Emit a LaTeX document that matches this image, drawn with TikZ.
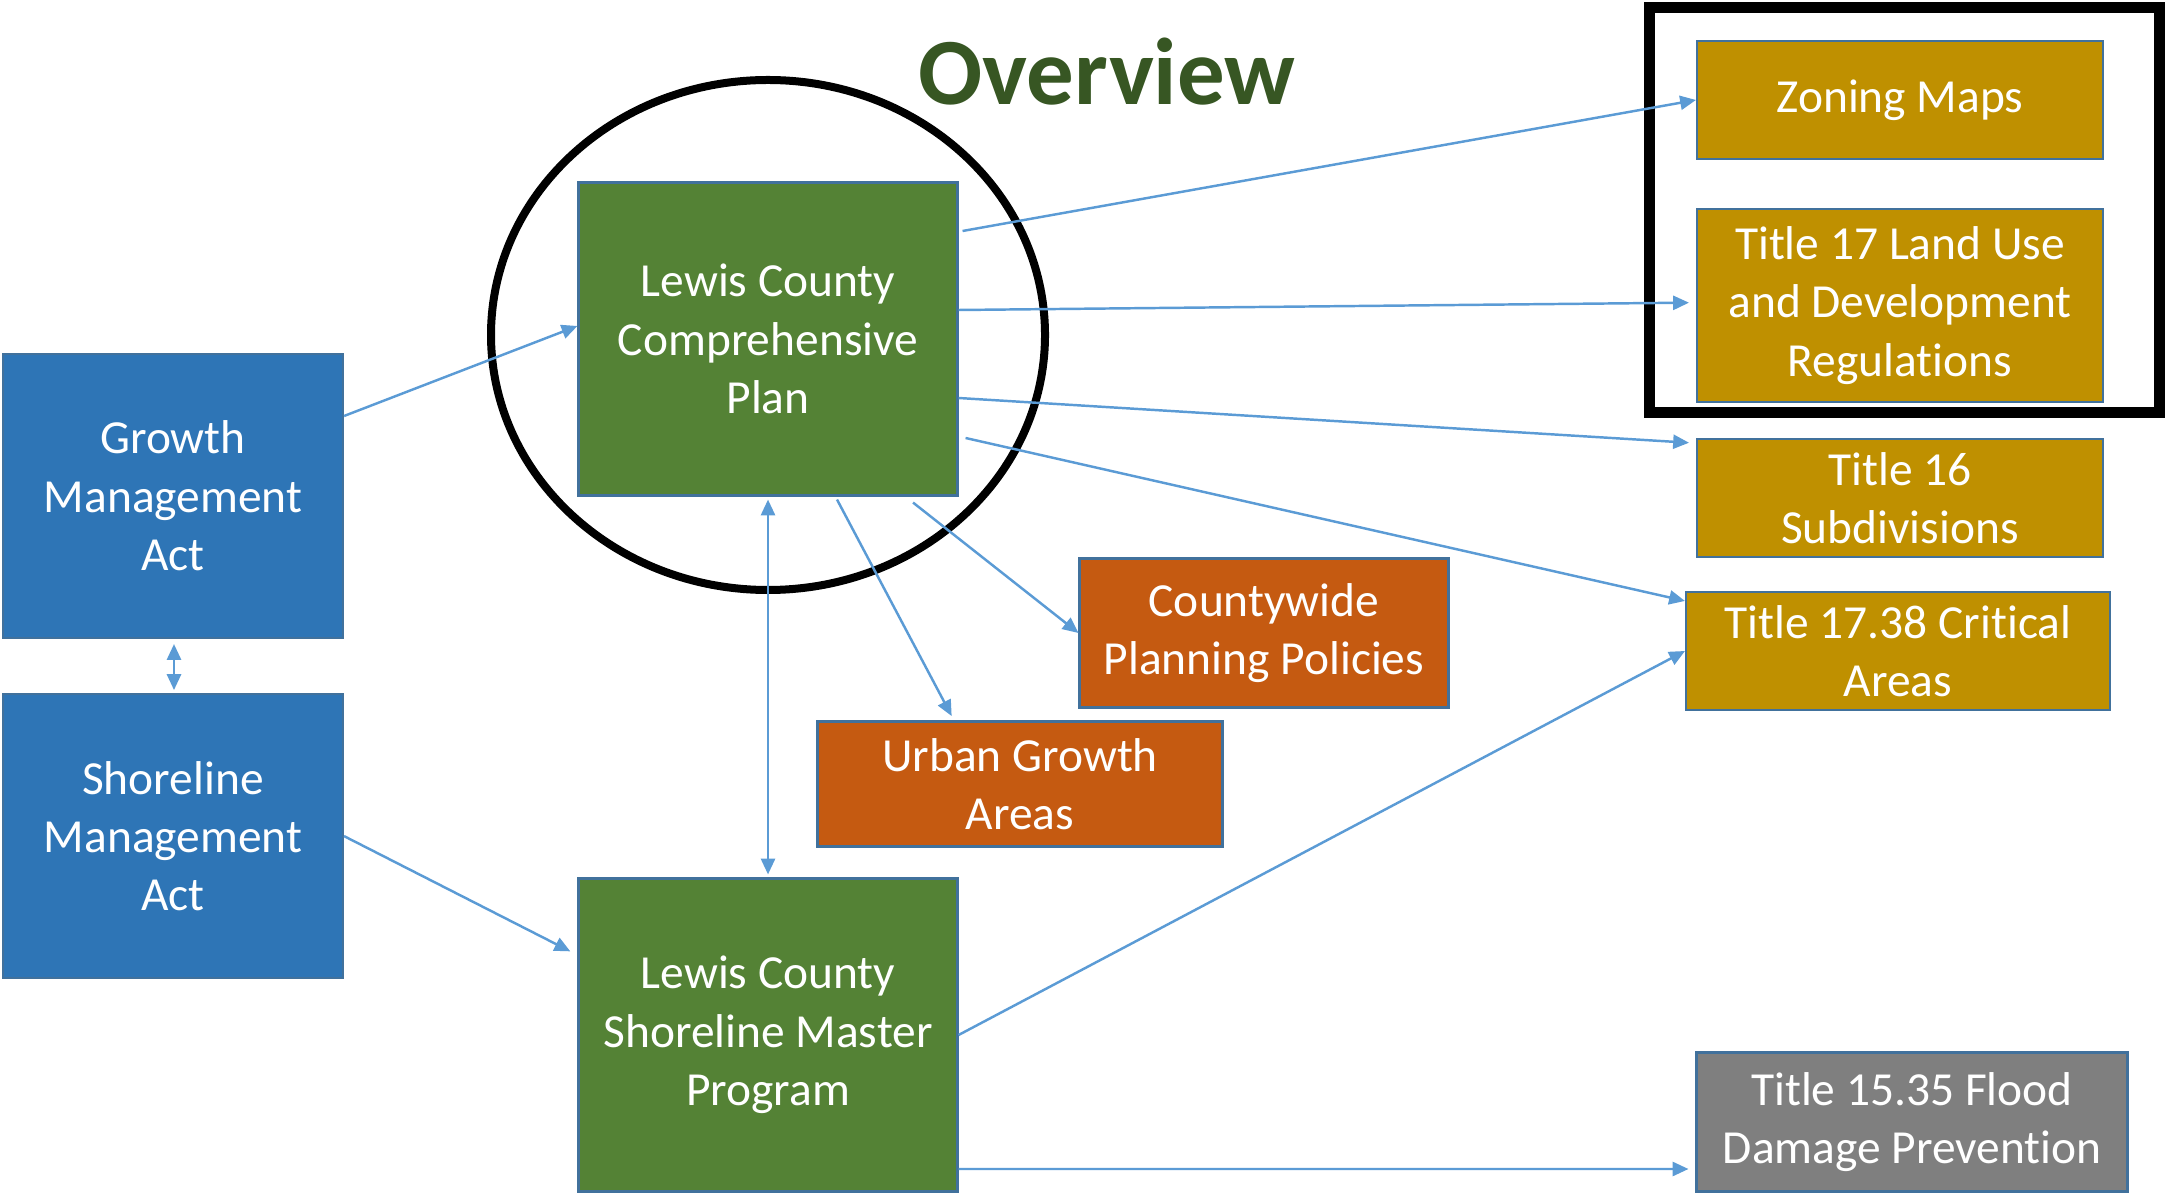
\documentclass[tikz,border=0pt]{standalone}
\usepackage{fontspec}
\setmainfont[Ligatures=NoCommon]{Carlito}
\usepackage{tikz}
\usetikzlibrary{positioning,arrows.meta,shapes}

\definecolor{actblue}{HTML}{2E75B6}
\definecolor{plangreen}{HTML}{548235}
\definecolor{codegold}{HTML}{BF9000}
\definecolor{policyorange}{HTML}{C55A11}
\definecolor{floodgray}{HTML}{7F7F7F}
\definecolor{boxline}{HTML}{41719C}
\definecolor{linkblue}{HTML}{5B9BD5}
\definecolor{titlegreen}{HTML}{375623}

\begin{document}
\begin{tikzpicture}[>={Triangle[length=4.5pt,width=4pt]},
    box/.style={rectangle, draw=boxline, line width=0.6pt, text=white, align=center,
      inner sep=0pt, font=\fontsize{13.5}{16.6}\selectfont},
    act/.style={box, fill=actblue, minimum width=3.40cm, minimum height=2.84cm},
    plan/.style={box, fill=plangreen, minimum width=3.79cm, minimum height=3.13cm},
    code/.style={box, fill=codegold, minimum width=4.06cm, minimum height=1.18cm},
    policy/.style={box, fill=policyorange},
    flood/.style={box, fill=floodgray, minimum width=4.31cm, minimum height=1.39cm},
    every edge/.style={draw=linkblue, line width=0.7pt}]

\useasboundingbox (0,0) rectangle (21.69,-11.96);

% Title
\node[font=\fontsize{27}{32}\selectfont\bfseries, text=titlegreen] (title) at (11.07,-0.72) {Overview};

% Acts
\node[act] (gma) at (1.73,-4.96) {Growth\\Management\\Act};
\node[act, below=0.54cm of gma] (sma) {Shoreline\\Management\\Act};

% Plans
\node[plan] (lccp) at (7.68,-3.39) {Lewis County\\Comprehensive\\Plan};
\node[plan] (lcsmp) at (7.68,-10.35) {Lewis County\\Shoreline Master\\Program};

% Codes
\node[code] (zoning) at (19.00,-1.00) {\raisebox{-0.04cm}{Zoning Maps}};
\node[code, minimum height=1.93cm, below=0.48cm of zoning] (t17) {Title 17 Land Use\\and Development\\Regulations};
\node[code, below=0.35cm of t17] (t16) {Title 16\\Subdivisions};
\node[code, minimum width=4.24cm] (t1738) at (18.98,-6.51) {Title 17.38 Critical\\Areas};
\node[flood] (t1535) at (19.12,-11.22) {Title 15.35 Flood\\Damage Prevention};

% Policies
\node[policy, minimum width=3.69cm, minimum height=1.49cm] (cpp) at (12.64,-6.33) {Countywide\\Planning Policies};
\node[policy, minimum width=4.05cm, minimum height=1.25cm] (uga) at (10.20,-7.84) {Urban Growth\\Areas};

% Highlights
\draw[line width=0.11cm] (16.49,-0.08) rectangle (21.59,-4.13);
\draw[line width=0.08cm] (7.68,-3.35) ellipse (2.77cm and 2.55cm);

% Links
\path[->] ([yshift=0.8cm]gma.east) edge ([yshift=0.13cm]lccp.west)
  ([xshift=0.04cm, yshift=1.08cm]lccp.east) edge (zoning.west)
  ([yshift=0.29cm]lccp.east) edge[shorten >=0.07cm] ([yshift=0.03cm]t17.west)
  ([yshift=-0.59cm]lccp.east) edge[shorten >=0.07cm] ([yshift=-0.05cm]t16.north west)
  ([xshift=0.07cm, yshift=-0.99cm]lccp.east) edge ([yshift=-0.1cm]t1738.north west)
  ([xshift=1.45cm, yshift=-0.06cm]lccp.south) edge (cpp.west)
  ([xshift=0.69cm, yshift=-0.03cm]lccp.south) edge[shorten >=0.05cm] ([xshift=-0.66cm]uga.north)
  (sma.east) edge[shorten >=0.08cm] ([yshift=0.8cm]lcsmp.west)
  (lcsmp.east) edge (t1738.west)
  ([yshift=-1.34cm]lcsmp.east) edge[shorten >=0.07cm] ([yshift=-0.47cm]t1535.west);
\path[<->] (lccp.south) edge[shorten <=0.03cm, shorten >=0.03cm] (lcsmp.north)
  ([xshift=0.01cm]gma.south) edge[shorten <=0.05cm, shorten >=0.03cm] ([xshift=0.01cm]sma.north);

\end{tikzpicture}
\end{document}
